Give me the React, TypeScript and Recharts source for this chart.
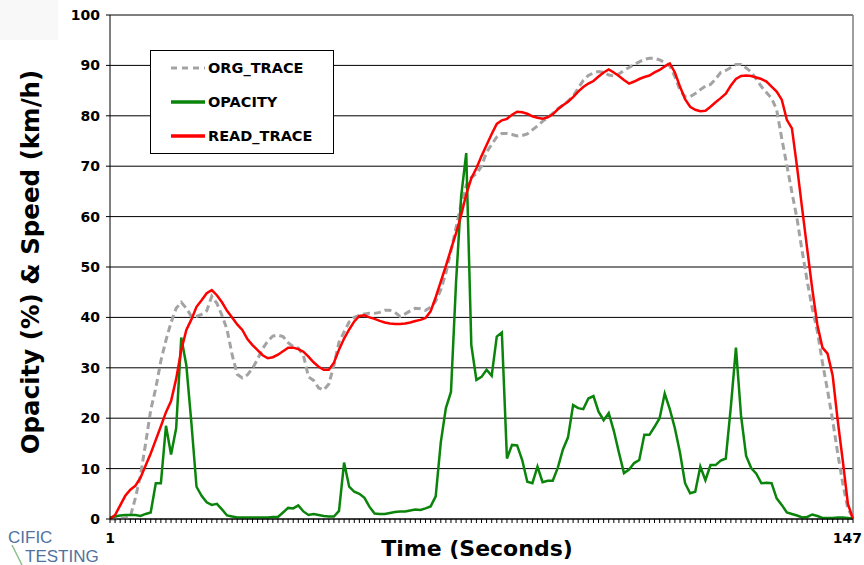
import React from 'react';
import {
  CartesianGrid,
  Legend,
  Line,
  LineChart,
  ReferenceLine,
  XAxis,
  YAxis,
} from 'recharts';

// speed / opacity traces, one value per second (1..147)
const ORG_TRACE = [
  0, 0, 0, 0.2, 0.5, 4.2, 8.7, 15, 21.6, 26,
  31.4, 35.5, 39, 41.8, 43, 41.8, 40.2, 40.2, 40.6, 41.3,
  44.2, 42.8, 40.4, 37.6, 32.6, 28.7, 28, 28.6, 29.9, 31.7,
  33.8, 35.3, 36.3, 36.5, 36.2, 35, 34.2, 33.9, 32.5, 28.2,
  27.5, 26, 25.6, 26.8, 30.5, 35.1, 37.1, 39.1, 40, 40.4,
  40.7, 40.8, 40.8, 41, 41.4, 41.4, 41, 40.2, 40.7, 41.3,
  41.8, 41.7, 41.4, 42, 43.2, 45.5, 48.8, 53.2, 57.8, 62.5,
  66.2, 67.8, 68.5, 70, 72.8, 74.3, 75.8, 76.5, 76.5, 76.3,
  76, 76.1, 76.4, 77.2, 78, 78.9, 79.6, 80.5, 81.4, 82.1,
  82.9, 83.9, 85.5, 87, 88, 88.5, 88.8, 88.6, 88.1, 87.9,
  88.3, 89, 89.6, 90.2, 90.7, 91.2, 91.4, 91.4, 91.1, 90.6,
  89.9, 87.8, 85.1, 83.8, 83.8, 84.4, 85.2, 85.9, 86.2, 87.3,
  88.6, 89, 89.6, 90.2, 90.2, 89.5, 88.7, 87.3, 85.8, 84.6,
  83.5, 81.2, 75.5, 70.2, 64.8, 59.6, 53.2, 47.2, 41.8, 37.2,
  31, 25.5, 19.6, 13, 7, 2, 0.3,
];

const OPACITY = [
  0.3, 0.5, 0.7, 0.8, 0.8, 0.8, 0.6, 1.0, 1.3, 7.1,
  7.1, 18.5, 12.8, 18.0, 36.0, 30.5, 19.0, 6.4, 4.6, 3.3,
  2.8, 3.0, 1.9, 0.7, 0.5, 0.3, 0.3, 0.3, 0.3, 0.3,
  0.3, 0.3, 0.4, 0.4, 1.3, 2.2, 2.1, 2.7, 1.5, 0.8,
  1.0, 0.8, 0.6, 0.5, 0.5, 1.6, 11.2, 6.4, 5.4, 5.0,
  4.2, 2.4, 1.1, 1.0, 1.0, 1.2, 1.4, 1.5, 1.5, 1.7,
  1.9, 1.8, 2.1, 2.5, 4.5, 15.2, 22.0, 25.2, 47, 64,
  72.6, 34.5, 27.6, 28.2, 29.6, 28.4, 36.2, 37.0, 12.0, 14.7,
  14.6, 11.7, 7.4, 7.1, 10.4, 7.3, 7.6, 7.6, 10.2, 13.8,
  16.2, 22.6, 22.0, 21.8, 23.9, 24.4, 21.3, 19.6, 21.0, 17.5,
  13.2, 9.1, 9.8, 11.1, 11.7, 16.7, 16.7, 18.3, 20.0, 24.9,
  21.8, 18.0, 13.2, 7.1, 5.1, 5.4, 10.4, 7.7, 10.7, 10.7,
  11.6, 12.0, 22.3, 34.0, 20.5, 12.5, 10.1, 9.0, 7.1, 7.2,
  7.1, 4.1, 2.8, 1.3, 1.0, 0.7, 0.3, 0.4, 0.9, 0.6,
  0.2, 0.2, 0.2, 0.3, 0.3, 0.2, 0.1,
];

const READ_TRACE = [
  0, 0.8, 2.7, 4.6, 5.8, 6.6, 8.2, 10.6, 13, 15.7,
  18.4, 21.2, 23.4, 27.8, 33.5, 37.5, 39.6, 42.1, 43.4, 44.8,
  45.4, 44.4, 43, 41.3, 40, 38.6, 37.5, 35.7, 34.5, 33.5,
  32.5, 31.9, 32.1, 32.6, 33.3, 34, 34, 33.7, 33.2, 32.2,
  31.1, 30.2, 29.6, 29.6, 31, 33.6, 35.8, 37.6, 39.2, 40.3,
  40.4, 40, 39.7, 39.3, 39, 38.8, 38.7, 38.7, 38.8, 39,
  39.3, 39.5, 39.9, 41.2, 44, 47.1, 50.2, 53.5, 56.7, 60.3,
  64.4, 67.6, 69.6, 72, 74.2, 76.4, 78.4, 79.1, 79.4, 80.2,
  80.8, 80.7, 80.4, 79.9, 79.6, 79.4, 79.7, 80.3, 81.3, 82.1,
  82.8, 83.7, 84.8, 85.7, 86.4, 86.9, 87.8, 88.6, 89.2, 88.6,
  87.9, 87.1, 86.4, 86.8, 87.3, 87.7, 88, 88.6, 89.1, 89.8,
  90.4, 88.6, 85.8, 83.3, 81.8, 81.2, 80.9, 81, 81.8, 82.7,
  83.5, 84.4, 86, 87.3, 87.9, 88, 87.9, 87.6, 87.3, 86.8,
  85.8, 84.8, 83.2, 79.2, 77.5, 69.9, 61.7, 53.6, 45.6, 38.5,
  34, 32.8, 28.5, 19.5, 11.5, 3, 0,
];

const Y_TICKS = [0, 10, 20, 30, 40, 50, 60, 70, 80, 90, 100];
const X_LABELS = [1, 147];

const SECONDS = READ_TRACE.map((_, i) => i + 1);
const data = SECONDS.map((t, i) => ({
  t,
  org: ORG_TRACE[i],
  opacity: OPACITY[i],
  read: READ_TRACE[i],
}));

const FONT = '"DejaVu Sans", Verdana, sans-serif';

const SERIES = [
  { key: 'org', name: 'ORG_TRACE', color: '#a3a3a3', width: 3, dash: '7 4' },
  { key: 'opacity', name: 'OPACITY', color: '#0b840b', width: 2.5, dash: undefined },
  { key: 'read', name: 'READ_TRACE', color: '#ff0000', width: 2.5, dash: undefined },
];

function TimeTick(props: any) {
  const { x, y, payload } = props;
  if (!X_LABELS.includes(payload.value)) return null;
  const last = payload.value === X_LABELS[X_LABELS.length - 1];
  return (
    <text
      x={last ? x + 9 : x}
      y={y + 18}
      textAnchor={last ? 'end' : 'middle'}
      fill="#000"
      fontSize={14}
      fontWeight={700}
      fontFamily={FONT}
    >
      {payload.value}
    </text>
  );
}

function LegendBox() {
  return (
    <div
      style={{
        width: 184,
        height: 104,
        boxSizing: 'border-box',
        border: '1px solid #000',
        background: '#fff',
        fontFamily: FONT,
        fontWeight: 700,
        fontSize: 14.5,
        paddingTop: 0,
      }}
    >
      {SERIES.map((s) => (
        <div key={s.key} style={{ display: 'flex', alignItems: 'center', height: 34 }}>
          <svg width={57} height={10}>
            <line
              x1={20}
              x2={54}
              y1={5}
              y2={5}
              stroke={s.color}
              strokeWidth={s.key === 'org' ? 3 : 3.5}
              strokeDasharray={s.dash ? '6 5' : undefined}
            />
          </svg>
          <span>{s.name}</span>
        </div>
      ))}
    </div>
  );
}

export default function App() {
  return (
    <div style={{ position: 'absolute', left: 0, top: 0, width: 864, height: 565, background: '#fff' }}>
      <div style={{ position: 'absolute', left: 0, top: 0, width: 58, height: 40, background: '#f8f8f8' }} />
      <LineChart width={864} height={565} data={data} margin={{ top: 15, right: 11, bottom: 16, left: 50 }}>
        <CartesianGrid vertical={false} stroke="#000" strokeWidth={1} />
        <XAxis
          dataKey="t"
          type="number"
          domain={[1, 147]}
          ticks={SECONDS}
          interval={0}
          height={30}
          tickSize={4}
          tickMargin={2}
          stroke="#000"
          tick={<TimeTick />}
        />
        <YAxis
          domain={[0, 100]}
          ticks={Y_TICKS}
          interval={0}
          width={60}
          tickSize={4}
          tickMargin={6}
          stroke="#000"
          tick={{ fill: '#000', fontSize: 14, fontWeight: 700, fontFamily: FONT }}
        />
        <ReferenceLine x={147} stroke="#7f7f7f" strokeWidth={1.5} />
        <Legend
          layout="vertical"
          align="center"
          verticalAlign="middle"
          wrapperStyle={{ left: 150, top: 50, width: 184, height: 104 }}
          content={() => <LegendBox />}
        />
        {SERIES.map((s) => (
          <Line
            key={s.key}
            type="linear"
            dataKey={s.key}
            name={s.name}
            stroke={s.color}
            strokeWidth={s.width}
            strokeDasharray={s.dash}
            dot={false}
            activeDot={false}
            isAnimationActive={false}
          />
        ))}
      </LineChart>
      <div
        style={{
          position: 'absolute',
          left: 30,
          top: 262,
          transform: 'translate(-50%, -50%) rotate(-90deg)',
          whiteSpace: 'nowrap',
          fontFamily: FONT,
          fontWeight: 700,
          fontSize: 24.5,
          color: '#000',
        }}
      >
        Opacity (%) &amp; Speed (km/h)
      </div>
      <div
        style={{
          position: 'absolute',
          left: 477,
          top: 548,
          transform: 'translate(-50%, -50%)',
          whiteSpace: 'nowrap',
          fontFamily: FONT,
          fontWeight: 700,
          fontSize: 22,
          color: '#000',
        }}
      >
        Time (Seconds)
      </div>
      <svg style={{ position: 'absolute', left: 0, top: 525 }} width={110} height={40}>
        <line x1={12} y1={20} x2={22} y2={40} stroke="#8cc08c" strokeWidth={1.5} />
        <text x={8} y={18} fill="#4f72a0" fontSize={17} fontFamily="'Liberation Sans', Arial, sans-serif">
          CIFIC
        </text>
        <text x={25} y={37} fill="#4f72a0" fontSize={17} fontFamily="'Liberation Sans', Arial, sans-serif">
          TESTING
        </text>
      </svg>
    </div>
  );
}
